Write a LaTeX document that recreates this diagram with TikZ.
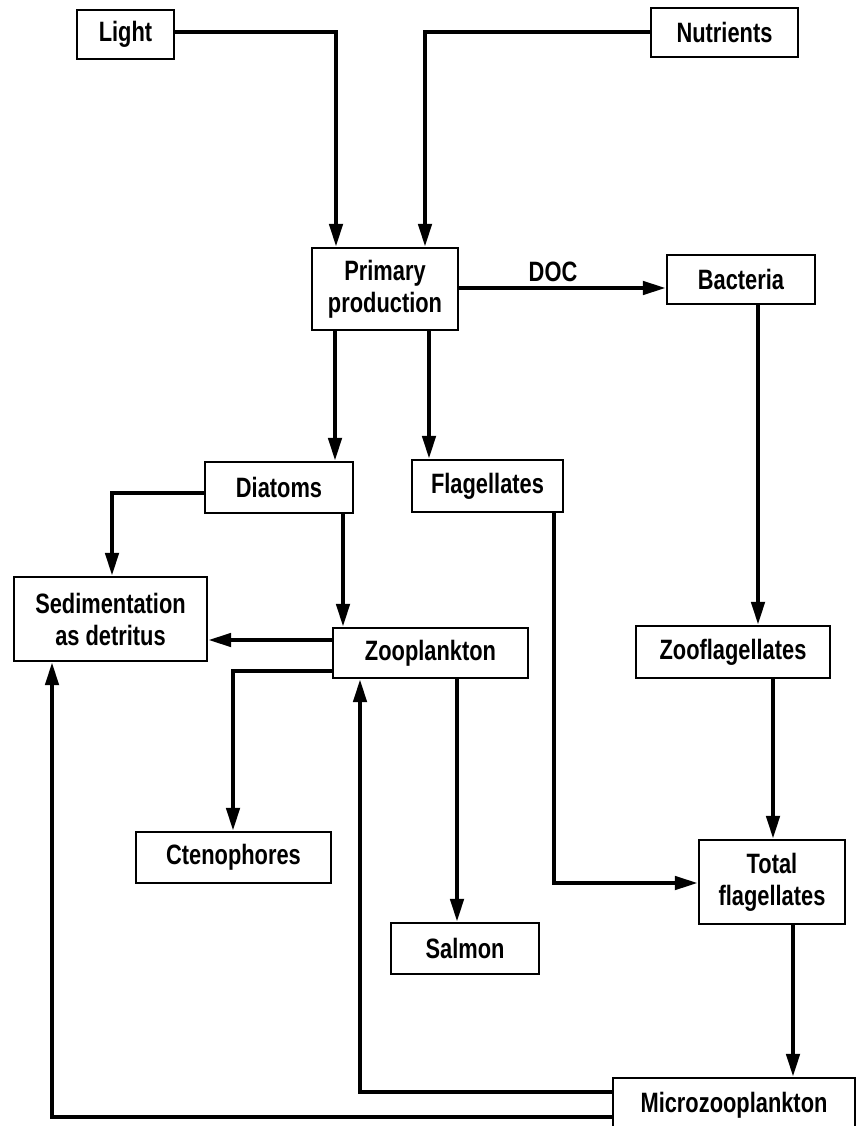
\documentclass[tikz,border=0pt]{standalone}
\usepackage{fontspec}
\setmainfont{Liberation Sans}[FakeStretch=0.78,UprightFont=*-Bold]
\usetikzlibrary{arrows.meta}
\begin{document}
\begin{tikzpicture}[x=0.75pt,y=-0.75pt,
  box/.style={draw,line width=2.2pt,inner sep=0pt,align=center,
    font=\fontsize{21}{24}\selectfont},
  arr/.style={line width=2.8pt,-{Triangle[length=17pt,width=10pt]}},
  lbl/.style={font=\fontsize{21}{24}\selectfont,inner sep=0pt}]
\useasboundingbox (0,0) rectangle (860,1126);
% nodes
\node[box,minimum width=97*0.75pt,minimum height=49*0.75pt] (light) at (125.5,34.5) {Light};
\node[box,minimum width=147*0.75pt,minimum height=49*0.75pt] (nutr) at (724.5,32.5) {Nutrients};
\node[box,minimum width=146*0.75pt,minimum height=82*0.75pt] (prim) at (385,289) {Primary\\production};
\node[box,minimum width=148*0.75pt,minimum height=49*0.75pt] (bact) at (741,279.5) {Bacteria};
\node[box,minimum width=148*0.75pt,minimum height=51*0.75pt] (diat) at (279,487.5) {Diatoms};
\node[box,minimum width=151*0.75pt,minimum height=52*0.75pt] (flag) at (487.5,486) {Flagellates};
\node[box,minimum width=193*0.75pt,minimum height=84*0.75pt] (sed) at (110.5,619) {Sedimentation\\as detritus};
\node[box,minimum width=195*0.75pt,minimum height=50*0.75pt] (zoop) at (430.5,653) {Zooplankton};
\node[box,minimum width=194*0.75pt,minimum height=52*0.75pt] (zflag) at (733,652) {Zooflagellates};
\node[box,minimum width=195*0.75pt,minimum height=51*0.75pt] (cteno) at (233.5,857.5) {Ctenophores};
\node[box,minimum width=148*0.75pt,minimum height=51*0.75pt] (salmon) at (465,948.5) {Salmon};
\node[box,minimum width=146*0.75pt,minimum height=84*0.75pt] (total) at (772,882) {Total\\flagellates};
\node[box,minimum width=242*0.75pt,minimum height=54*0.75pt] (micro) at (734,1105) {Microzooplankton};
% bend coordinates
\coordinate (c1) at (336,32);
\coordinate (c2) at (425,32);
\coordinate (c3) at (0,288);
\coordinate (c4) at (758,0);
\coordinate (c5) at (773,0);
\coordinate (c6) at (793,0);
\coordinate (c7) at (360,1092);
\coordinate (c8) at (52,1117);
\coordinate (c9) at (335,0);
\coordinate (c10) at (429,0);
\coordinate (c11) at (112,493);
\coordinate (c12) at (343,0);
\coordinate (c13) at (0,640);
\coordinate (c14) at (233,671);
\coordinate (c15) at (457,0);
\coordinate (c16) at (554,883);
% connectors
\draw[arr] (light.east |- c1) -- (c1) -- (c1 |- prim.north);
\draw[arr] (nutr.west |- c2) -- (c2) -- (c2 |- prim.north);
\draw[arr] (prim.east |- c3) -- (bact.west |- c3);
\node[lbl] (doc) at (553,272) {DOC};
\draw[arr] (c4 |- bact.south) -- (c4 |- zflag.north);
\draw[arr] (c5 |- zflag.south) -- (c5 |- total.north);
\draw[arr] (c6 |- total.south) -- (c6 |- micro.north);
\draw[arr] (micro.west |- c7) -- (c7) -- (c7 |- zoop.south);
\draw[arr] (micro.west |- c8) -- (c8) -- (c8 |- sed.south);
\draw[arr] (c9 |- prim.south) -- (c9 |- diat.north);
\draw[arr] (c10 |- prim.south) -- (c10 |- flag.north);
\draw[arr] (diat.west |- c11) -- (c11) -- (c11 |- sed.north);
\draw[arr] (c12 |- diat.south) -- (c12 |- zoop.north);
\draw[arr] (zoop.west |- c13) -- (sed.east |- c13);
\draw[arr] (zoop.west |- c14) -- (c14) -- (c14 |- cteno.north);
\draw[arr] (c15 |- zoop.south) -- (c15 |- salmon.north);
\draw[arr] (c16 |- flag.south) -- (c16) -- (total.west |- c16);
\end{tikzpicture}
\end{document}
